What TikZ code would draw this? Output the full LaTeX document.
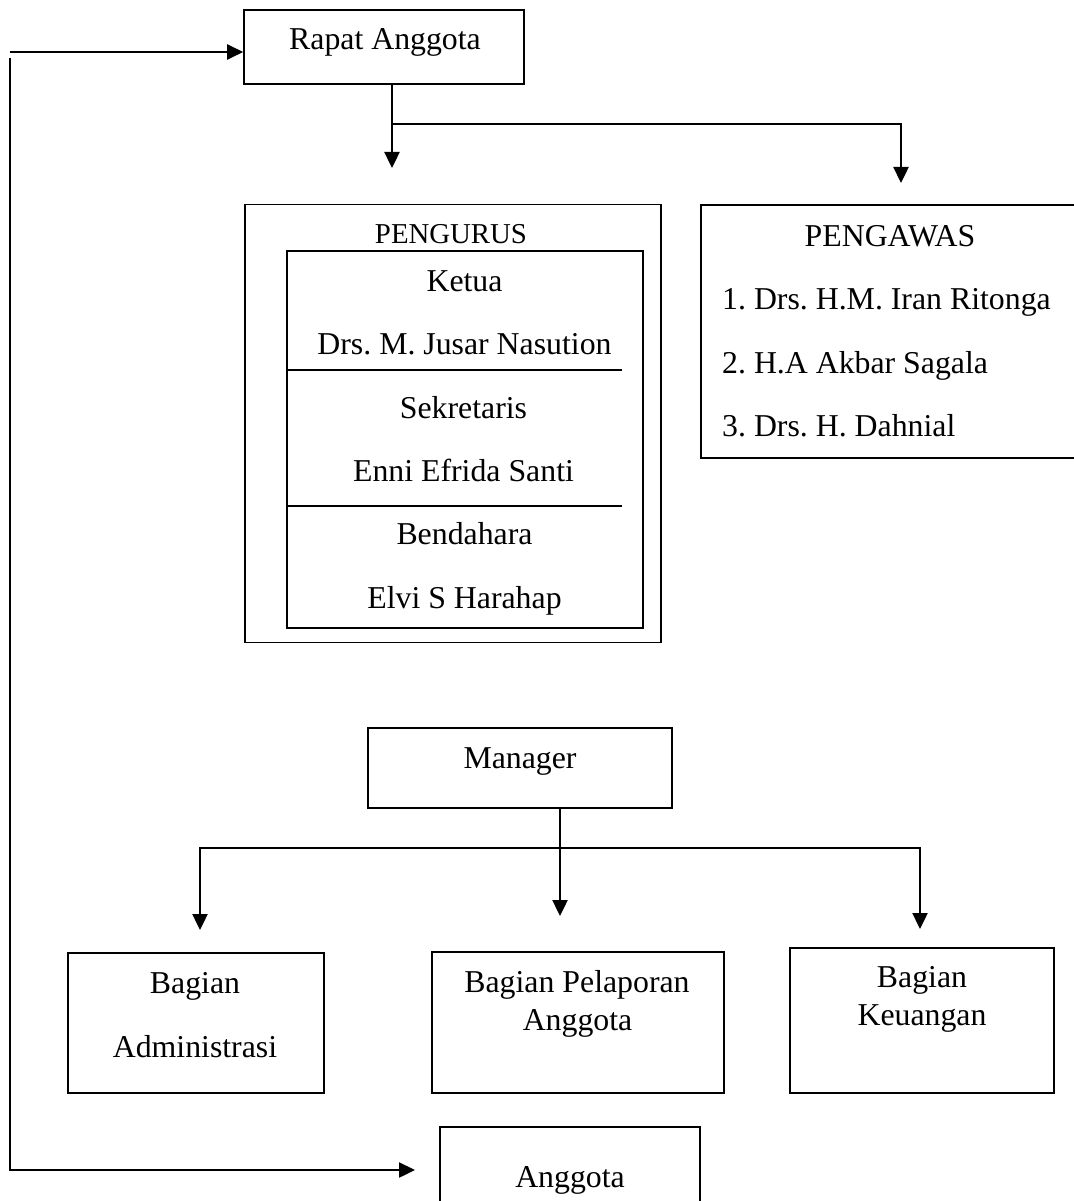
\documentclass[tikz,border=0pt]{standalone}
\usepackage{fontspec}
\setmainfont{Liberation Serif}
\frenchspacing
\usetikzlibrary{arrows.meta}
\begin{document}
\begin{tikzpicture}[x=1pt,y=-1pt,
		kotak/.style={draw,line width=1.6pt,inner sep=0pt},
		garis/.style={line width=2.4pt},
		panah/.style={garis,-{Triangle[width=15pt,length=16pt]}},
		teks/.style={anchor=base,inner sep=0pt,font=\fontsize{31.8}{38}\selectfont},
		kecil/.style={anchor=base,inner sep=0pt,font=\fontsize{28.8}{34}\selectfont}]
	\useasboundingbox (0,0) rectangle (1073,1201);
	\node[kotak,minimum width=280pt,minimum height=74pt] (rapat) at (384,47) {};
	\node[teks] (tRapat) at (385,50) {Rapat Anggota};
	\node[kotak,minimum width=416pt,minimum height=438pt] (pengurus) at (453,423.5) {};
	\node[kotak,minimum width=356pt,minimum height=377pt] (jabatan) at (465,439.5) {};
	\draw[line width=1.6pt] (287,370) -- (622,370);
	\draw[line width=1.6pt] (287,506) -- (622,506);
	\node[kecil] (tPengurus) at (451,243) {PENGURUS};
	\node[teks] (tKetua) at (464.5,291) {Ketua};
	\node[teks] (tJusar) at (464.5,354) {Drs. M. Jusar Nasution};
	\node[teks] (tSekretaris) at (463.5,418) {Sekretaris};
	\node[teks] (tEnni) at (463.5,481) {Enni Efrida Santi};
	\node[teks] (tBendahara) at (464.5,544) {Bendahara};
	\node[teks] (tElvi) at (464.5,608) {Elvi S Harahap};
	\node[kotak,minimum width=390pt,minimum height=253pt] (pengawas) at (896,331.5) {};
	\node[teks] (tPengawas) at (890,246) {PENGAWAS};
	\node[teks,anchor=base west] (tIran) at (722,309) {1. Drs. H.M. Iran Ritonga};
	\node[teks,anchor=base west] (tAkbar) at (722,373) {2. H.A Akbar Sagala};
	\node[teks,anchor=base west] (tDahnial) at (722,436) {3. Drs. H. Dahnial};
	\node[kotak,minimum width=304pt,minimum height=80pt] (manager) at (520,768) {};
	\node[teks] (tManager) at (520,768) {Manager};
	\node[kotak,minimum width=256pt,minimum height=140pt] (admin) at (196,1023) {};
	\node[teks] (tAdmin1) at (195,993) {Bagian};
	\node[teks] (tAdmin2) at (195,1057) {Administrasi};
	\node[kotak,minimum width=292pt,minimum height=141pt] (lapor) at (578,1022.5) {};
	\node[teks] (tLapor1) at (577,992) {Bagian Pelaporan};
	\node[teks] (tLapor2) at (577.5,1030) {Anggota};
	\node[kotak,minimum width=264pt,minimum height=145pt] (uang) at (922,1020.5) {};
	\node[teks] (tUang1) at (922,987) {Bagian};
	\node[teks] (tUang2) at (922,1025) {Keuangan};
	\node[kotak,minimum width=260pt,minimum height=95pt] (anggota) at (570,1174.5) {};
	\node[teks] (tAnggota) at (570,1187) {Anggota};
	\coordinate (cabangA) at (392,124);
	\coordinate (ujungA1) at (392,168);
	\coordinate (ujungA2) at (901,183);
	\draw[panah] (rapat.south -| cabangA) -- (ujungA1);
	\draw[panah] (cabangA) -| (ujungA2);
	\coordinate (cabangB) at (560,848);
	\coordinate (ujungB1) at (200,930);
	\coordinate (ujungB2) at (560,916);
	\coordinate (ujungB3) at (920,929);
	\draw[panah] (manager.south -| cabangB) -- (ujungB2);
	\draw[panah] (cabangB) -| (ujungB1);
	\draw[panah] (cabangB) -| (ujungB3);
	\coordinate (kiriAtas) at (10,52);
	\coordinate (kiriTengah) at (10,58);
	\coordinate (kiriBawah) at (10,1170);
	\coordinate (ujungAnggota) at (415,1170);
	\draw[panah] (kiriAtas) -- (kiriAtas -| rapat.west);
	\draw[panah] (kiriTengah) -- (kiriBawah) -- (ujungAnggota);
\end{tikzpicture}
\end{document}
